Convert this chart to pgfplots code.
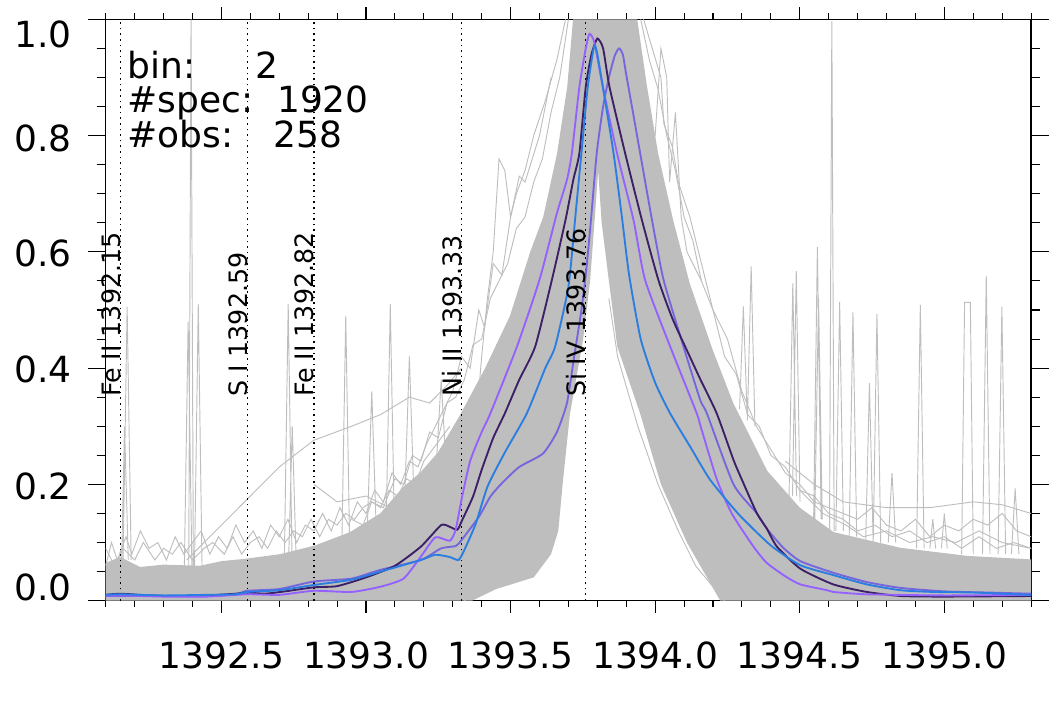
\documentclass[border=0pt]{standalone}
\usepackage{fontspec}
\setmainfont{DejaVu Sans}
\usepackage{pgfplots}
\pgfplotsset{compat=1.18}
\definecolor{gr}{HTML}{BEBEBE}
\definecolor{cdark}{HTML}{3C1F66}
\definecolor{cviol}{HTML}{9461FF}
\definecolor{cblue}{HTML}{2A7DE1}
\definecolor{cslate}{HTML}{7566DE}
\newcommand\fbig{\fontsize{27pt}{32pt}\selectfont}
\newcommand\fsm{\fontsize{19pt}{22pt}\selectfont}
\begin{document}
\begin{tikzpicture}
\path[use as bounding box] (-79.3pt,-79.7pt) rectangle (717.2pt,450.5pt);
\begin{axis}[
  at={(0,0)}, anchor=south west,
  scale only axis, width=694pt, height=436pt,
  xmin=1392.1, xmax=1395.3, ymin=0, ymax=1,
  xtick={1392.5,1393.0,1393.5,1394.0,1394.5,1395.0},
  minor xtick={1392.1,1392.2,...,1395.3},
  ytick={0,0.2,0.4,0.6,0.8,1.0},
  minor ytick={0,0.05,...,1.0},
  xticklabels={}, yticklabels={},
  tick align=outside,
  xtick style={black, line width=0.8pt, /pgfplots/major tick length=9pt, /pgfplots/minor tick length=4.5pt},
  ytick style={black, line width=0.8pt, /pgfplots/major tick length=13.5pt, /pgfplots/minor tick length=6.75pt},
  axis line style={line width=1pt},
  clip mode=individual,
  unbounded coords=jump,
]
% dense envelope of the 1920 spectra
\addplot[fill=gr, draw=none] coordinates {
(1392.100,0.065) (1392.150,0.075) (1392.219,0.058) (1392.300,0.062) (1392.426,0.060)
(1392.500,0.068) (1392.582,0.072) (1392.703,0.080) (1392.824,0.095) (1392.945,0.118)
(1393.049,0.150) (1393.128,0.195) (1393.187,0.220) (1393.249,0.255) (1393.326,0.320)
(1393.412,0.400) (1393.498,0.490) (1393.568,0.600) (1393.613,0.660) (1393.661,0.770)
(1393.696,0.884) (1393.716,1.000) (1393.938,1.000) (1393.972,0.884) (1394.010,0.770)
(1394.062,0.655) (1394.120,0.545) (1394.200,0.430) (1394.270,0.340) (1394.388,0.223)
(1394.500,0.160) (1394.617,0.118) (1394.848,0.091) (1395.080,0.077) (1395.300,0.071)
(1395.300,0.000) (1394.225,0.000) (1394.110,0.100) (1394.020,0.200) (1393.948,0.322)
(1393.869,0.437) (1393.840,0.550) (1393.815,0.650) (1393.803,0.740) (1393.790,0.650)
(1393.775,0.550) (1393.751,0.450) (1393.705,0.320) (1393.680,0.200) (1393.665,0.120)
(1393.640,0.080) (1393.580,0.040) (1393.450,0.020) (1393.367,0.000) (1392.100,0.000)
} -- cycle;
% individual noisy spectra
\addplot[gr, line width=0.7pt] coordinates {
(1392.10,0.06) (1392.12,0.10) (1392.14,0.07) (1392.17,0.11) (1392.19,0.08) (1392.22,0.12)
(1392.25,0.09) (1392.28,0.10) (1392.31,0.07) (1392.34,0.11) (1392.37,0.08) (1392.40,0.10)
(1392.43,0.12) (1392.46,0.08) (1392.49,0.11) (1392.52,0.09) (1392.55,0.13) (1392.58,0.10)
(1392.61,0.12) (1392.64,0.09) (1392.67,0.13) (1392.70,0.11) (1392.73,0.14) (1392.76,0.10)
(1392.79,0.13) (1392.82,0.12) (1392.85,0.15) (1392.88,0.12) (1392.91,0.16) (1392.94,0.13)
(1392.97,0.17) (1393.00,0.15) (1393.03,0.19) (1393.06,0.17) (1393.09,0.22) (1393.12,0.20)
(1393.15,0.24) (1393.18,0.23) (1393.21,0.27) (1393.24,0.30) (1393.27,0.33) (1393.30,0.36)
(1393.33,0.42) (1393.36,0.40) (1393.39,0.50) (1393.41,0.47) (1393.44,0.58) (1393.47,0.56)
(1393.50,0.66) (1393.52,0.70) (1393.55,0.74) (1393.58,0.80) (1393.62,0.86) (1393.66,0.93)
(1393.69,1.00)
};
\addplot[gr, line width=0.7pt] coordinates {
(1392.10,0.09) (1392.13,0.06) (1392.16,0.09) (1392.20,0.07) (1392.23,0.10) (1392.27,0.07)
(1392.30,0.09) (1392.33,0.08) (1392.36,0.10) (1392.40,0.07) (1392.44,0.09) (1392.47,0.10)
(1392.51,0.08) (1392.54,0.11) (1392.57,0.08) (1392.60,0.10) (1392.63,0.11) (1392.66,0.09)
(1392.69,0.12) (1392.72,0.10) (1392.75,0.12) (1392.78,0.11) (1392.81,0.14) (1392.84,0.11)
(1392.87,0.14) (1392.90,0.13) (1392.93,0.15) (1392.96,0.14) (1392.99,0.16) (1393.02,0.17)
(1393.05,0.16) (1393.08,0.19) (1393.11,0.18) (1393.14,0.21) (1393.17,0.20) (1393.20,0.24)
(1393.23,0.26) (1393.26,0.28) (1393.29,0.30)
};
\addplot[gr, line width=0.7pt] coordinates {
(1392.95,0.14) (1392.99,0.13) (1393.02,0.17) (1393.06,0.16) (1393.10,0.21) (1393.13,0.20)
(1393.16,0.25) (1393.19,0.24) (1393.22,0.29) (1393.25,0.28) (1393.28,0.34) (1393.31,0.35)
(1393.34,0.38) (1393.37,0.44) (1393.40,0.45) (1393.43,0.52) (1393.46,0.55) (1393.49,0.58)
(1393.52,0.64) (1393.55,0.66) (1393.58,0.72) (1393.61,0.76) (1393.64,0.84) (1393.67,0.90)
(1393.70,1.00)
};
\addplot[gr, line width=0.7pt] coordinates {
(1392.38,0.07) (1392.48,0.12) (1392.60,0.18) (1392.70,0.23) (1392.82,0.276) (1392.95,0.30)
(1393.05,0.32) (1393.15,0.35) (1393.22,0.34) (1393.28,0.37) (1393.33,0.40)
};
\addplot[gr, line width=0.7pt] coordinates {
(1392.82,0.20) (1392.90,0.17) (1393.00,0.18) (1393.08,0.16) (1393.15,0.17) (1393.22,0.15)
};
\addplot[gr, line width=0.7pt] coordinates {
(1393.38,0.30) (1393.40,0.42) (1393.42,0.52) (1393.44,0.60) (1393.46,0.76) (1393.48,0.74)
(1393.50,0.66) (1393.53,0.73) (1393.55,0.72) (1393.60,0.80) (1393.64,0.90)
};
\addplot[gr, line width=0.7pt] coordinates {
(1393.34,0.00) (1393.45,0.04) (1393.55,0.06) (1393.62,0.10) (1393.66,0.20) (1393.69,0.30)
(1393.73,0.42) (1393.77,0.55)
};
\addplot[gr, line width=0.7pt] coordinates {
(1394.24,0.00) (1394.14,0.06) (1394.08,0.12) (1394.01,0.20) (1393.94,0.30) (1393.87,0.42)
(1393.84,0.52)
};
\addplot[gr, line width=0.7pt] coordinates {
(1393.96,1.00) (1393.99,0.95) (1394.02,0.90) (1394.03,0.82) (1394.06,0.78) (1394.08,0.72)
(1394.12,0.66) (1394.15,0.60) (1394.20,0.50) (1394.25,0.45) (1394.30,0.36) (1394.35,0.30)
(1394.40,0.26) (1394.45,0.22) (1394.50,0.20) (1394.55,0.17) (1394.60,0.16) (1394.65,0.15)
(1394.70,0.14) (1394.75,0.16) (1394.80,0.13) (1394.85,0.12) (1394.90,0.14) (1394.95,0.11)
(1395.00,0.13) (1395.05,0.12) (1395.10,0.14) (1395.15,0.13) (1395.20,0.15) (1395.25,0.12)
(1395.30,0.11)
};
\addplot[gr, line width=0.7pt] coordinates {
(1393.95,1.00) (1393.98,0.93) (1394.01,0.88) (1394.04,0.80) (1394.07,0.74) (1394.10,0.66)
(1394.13,0.62) (1394.16,0.55) (1394.20,0.50) (1394.24,0.42) (1394.28,0.39) (1394.32,0.32)
(1394.36,0.30) (1394.40,0.25) (1394.45,0.23) (1394.50,0.19) (1394.55,0.18) (1394.60,0.15)
(1394.65,0.14) (1394.70,0.12) (1394.76,0.13) (1394.82,0.11) (1394.88,0.12) (1394.94,0.10)
(1395.00,0.11) (1395.06,0.09) (1395.12,0.11) (1395.18,0.09) (1395.24,0.10) (1395.30,0.09)
};
\addplot[gr, line width=0.7pt] coordinates {
(1393.98,0.78) (1394.00,0.80) (1394.02,0.95) (1394.04,0.90) (1394.05,0.72) (1394.07,0.84)
(1394.09,0.66) (1394.11,0.60) (1394.16,0.55)
};
\addplot[gr, line width=0.7pt] coordinates {
(1394.45,0.24) (1394.55,0.20) (1394.65,0.17) (1394.80,0.16) (1394.95,0.16) (1395.10,0.17)
(1395.20,0.165) (1395.30,0.15)
};
\addplot[gr, line width=0.7pt] coordinates {
(1394.50,0.19) (1394.58,0.15) (1394.66,0.13) (1394.72,0.11) (1394.80,0.12) (1394.88,0.10)
(1394.96,0.11) (1395.04,0.10) (1395.12,0.12) (1395.20,0.10) (1395.30,0.09)
};
% spikes
\addplot[gr, line width=0.7pt] coordinates {
(1392.160,0.07) (1392.174,0.506) (1392.188,0.07) (1392.19,nan)
(1392.155,0.07) (1392.165,0.30) (1392.178,0.07) (1392.18,nan)
(1392.387,0.06) (1392.395,1.00) (1392.403,0.06) (1392.41,nan)
(1392.372,0.06) (1392.385,0.48) (1392.398,0.06) (1392.40,nan)
(1392.407,0.06) (1392.420,0.51) (1392.433,0.06) (1392.44,nan)
(1392.718,0.08) (1392.731,0.51) (1392.744,0.08) (1392.75,nan)
(1392.733,0.08) (1392.745,0.30) (1392.758,0.08) (1392.76,nan)
(1392.917,0.11) (1392.930,0.49) (1392.943,0.11) (1392.95,nan)
(1393.005,0.13) (1393.020,0.36) (1393.035,0.13) (1393.04,nan)
(1393.071,0.16) (1393.084,0.51) (1393.097,0.16) (1393.10,nan)
(1393.135,0.19) (1393.150,0.42) (1393.165,0.19) (1393.17,nan)
(1393.245,0.25) (1393.260,0.38) (1393.275,0.25) (1393.28,nan)
(1394.292,0.33) (1394.305,0.506) (1394.318,0.32) (1394.32,nan)
(1394.319,0.31) (1394.332,0.575) (1394.345,0.30) (1394.35,nan)
(1394.463,0.18) (1394.476,0.546) (1394.489,0.18) (1394.49,nan)
(1394.475,0.18) (1394.488,0.567) (1394.501,0.17) (1394.51,nan)
(1394.548,0.14) (1394.561,0.608) (1394.574,0.14) (1394.58,nan)
(1394.552,0.14) (1394.565,0.52) (1394.578,0.14) (1394.58,nan)
(1394.603,0.12) (1394.611,0.997) (1394.619,0.12) (1394.62,nan)
(1394.625,0.12) (1394.638,0.514) (1394.651,0.12) (1394.66,nan)
(1394.671,0.11) (1394.684,0.496) (1394.697,0.11) (1394.70,nan)
(1394.728,0.10) (1394.741,0.374) (1394.754,0.10) (1394.76,nan)
(1394.754,0.10) (1394.767,0.493) (1394.780,0.10) (1394.79,nan)
(1394.806,0.10) (1394.819,0.22) (1394.832,0.10) (1394.84,nan)
(1394.904,0.09) (1394.917,0.509) (1394.930,0.09) (1394.94,nan)
(1394.950,0.09) (1394.960,0.14) (1394.970,0.09) (1394.98,nan)
(1394.990,0.09) (1395.000,0.15) (1395.010,0.09) (1395.02,nan)
(1395.060,0.08) (1395.070,0.513) (1395.090,0.513) (1395.100,0.08) (1395.11,nan)
(1395.132,0.08) (1395.145,0.559) (1395.158,0.08) (1395.16,nan)
(1395.186,0.08) (1395.199,0.506) (1395.212,0.08) (1395.22,nan)
(1395.232,0.08) (1395.245,0.193) (1395.258,0.08) (1395.26,nan)
};
% line positions
\addplot[black, line width=0.9pt, dash pattern=on 1.2pt off 3pt] coordinates {(1392.15,0) (1392.15,1)};
\addplot[black, line width=0.9pt, dash pattern=on 1.2pt off 3pt] coordinates {(1392.59,0) (1392.59,1)};
\addplot[black, line width=0.9pt, dash pattern=on 1.2pt off 3pt] coordinates {(1392.82,0) (1392.82,1)};
\addplot[black, line width=0.9pt, dash pattern=on 1.2pt off 3pt] coordinates {(1393.33,0) (1393.33,1)};
\addplot[black, line width=0.9pt, dash pattern=on 1.2pt off 3pt] coordinates {(1393.76,0) (1393.76,1)};
% mean profiles
\pgfplotsset{prof/.style={line width=1.4pt, smooth, tension=0.35}}
\addplot[cslate, prof] coordinates {
(1392.10,0.008) (1392.30,0.008) (1392.45,0.008) (1392.55,0.011) (1392.59,0.017) (1392.70,0.020)
(1392.82,0.033) (1392.95,0.038) (1393.05,0.053) (1393.19,0.070) (1393.26,0.090) (1393.31,0.094)
(1393.33,0.104) (1393.39,0.144) (1393.43,0.179) (1393.47,0.202) (1393.53,0.230) (1393.612,0.253)
(1393.66,0.290) (1393.695,0.340) (1393.72,0.420) (1393.745,0.500) (1393.762,0.570) (1393.778,0.655)
(1393.798,0.770) (1393.820,0.850) (1393.840,0.900) (1393.860,0.937) (1393.875,0.950) (1393.888,0.940)
(1393.900,0.905) (1393.925,0.835) (1393.948,0.770) (1393.989,0.655) (1394.029,0.552) (1394.098,0.437)
(1394.156,0.345) (1394.179,0.322)
(1394.271,0.200) (1394.352,0.150) (1394.386,0.124) (1394.443,0.091) (1394.502,0.068) (1394.616,0.048)
(1394.732,0.032) (1394.848,0.022) (1395.00,0.016) (1395.15,0.014) (1395.30,0.012)
};
\addplot[cdark, prof] coordinates {
(1392.10,0.010) (1392.15,0.012) (1392.25,0.009) (1392.35,0.008) (1392.45,0.009) (1392.55,0.012)
(1392.59,0.014) (1392.65,0.012) (1392.72,0.016) (1392.82,0.023) (1392.90,0.025) (1393.00,0.040)
(1393.10,0.060) (1393.19,0.093) (1393.26,0.130) (1393.29,0.127) (1393.316,0.122) (1393.333,0.139)
(1393.37,0.179) (1393.40,0.225) (1393.44,0.280) (1393.48,0.322) (1393.53,0.380) (1393.585,0.437)
(1393.643,0.552) (1393.69,0.655) (1393.717,0.724) (1393.738,0.770) (1393.76,0.884) (1393.78,0.940)
(1393.80,0.967) (1393.82,0.950) (1393.842,0.884) (1393.896,0.770) (1393.954,0.655) (1394.011,0.552)
(1394.06,0.485) (1394.115,0.425) (1394.156,0.381) (1394.213,0.322) (1394.271,0.242) (1394.30,0.208)
(1394.352,0.150) (1394.386,0.124) (1394.421,0.093) (1394.502,0.055) (1394.616,0.028) (1394.732,0.015)
(1394.85,0.008) (1395.00,0.007) (1395.30,0.008)
};
\addplot[cviol, prof] coordinates {
(1392.10,0.008) (1392.15,0.009) (1392.30,0.007) (1392.45,0.007) (1392.59,0.011) (1392.70,0.010)
(1392.82,0.017) (1392.95,0.015) (1393.05,0.024) (1393.13,0.038) (1393.19,0.076) (1393.24,0.109)
(1393.29,0.103) (1393.31,0.122) (1393.33,0.173) (1393.36,0.240) (1393.40,0.290) (1393.43,0.322)
(1393.522,0.437) (1393.60,0.552) (1393.66,0.666) (1393.695,0.724) (1393.712,0.770) (1393.738,0.884)
(1393.76,0.950) (1393.773,0.975) (1393.79,0.960) (1393.819,0.884) (1393.868,0.770) (1393.925,0.655)
(1393.965,0.552) (1394.052,0.437) (1394.144,0.322) (1394.156,0.302) (1394.213,0.209) (1394.265,0.150)
(1394.34,0.093) (1394.386,0.065) (1394.45,0.042) (1394.502,0.028) (1394.594,0.018) (1394.616,0.015)
(1394.73,0.011) (1395.00,0.009) (1395.30,0.010)
};
\addplot[cblue, prof] coordinates {
(1392.10,0.010) (1392.15,0.011) (1392.30,0.009) (1392.45,0.010) (1392.55,0.011) (1392.59,0.015)
(1392.70,0.018) (1392.82,0.027) (1392.95,0.036) (1393.05,0.050) (1393.19,0.070) (1393.24,0.079)
(1393.29,0.075) (1393.32,0.070) (1393.34,0.087) (1393.38,0.133) (1393.42,0.196) (1393.478,0.253)
(1393.556,0.322) (1393.62,0.400) (1393.654,0.437) (1393.70,0.540) (1393.725,0.666) (1393.745,0.770)
(1393.767,0.884) (1393.789,0.954) (1393.80,0.940) (1393.819,0.884) (1393.856,0.770) (1393.885,0.660)
(1393.910,0.560) (1393.950,0.450) (1394.00,0.375) (1394.052,0.322) (1394.121,0.265) (1394.19,0.208)
(1394.29,0.148) (1394.40,0.095) (1394.502,0.061) (1394.616,0.044) (1394.732,0.028) (1394.848,0.018)
(1394.963,0.015) (1395.10,0.014) (1395.30,0.010)
};
% line labels
\node[rotate=90, anchor=base west, inner sep=0, font=\fsm] at (axis cs:1392.15,0.35) {Fe II 1392.15};
\node[rotate=90, anchor=base west, inner sep=0, font=\fsm] at (axis cs:1392.59,0.35) {S I 1392.59};
\node[rotate=90, anchor=base west, inner sep=0, font=\fsm] at (axis cs:1392.82,0.35) {Fe II 1392.82};
\node[rotate=90, anchor=base west, inner sep=0, font=\fsm] at (axis cs:1393.33,0.35) {Ni II 1393.33};
\node[rotate=90, anchor=base west, inner sep=0, font=\fsm] at (axis cs:1393.76,0.35) {Si IV 1393.76};
% info text
\node[anchor=base west, inner sep=0, font=\fbig] at (axis cs:1392.174,0.899) {bin:};
\node[anchor=base west, inner sep=0, font=\fbig] at (axis cs:1392.174,0.839) {\#spec:};
\node[anchor=base west, inner sep=0, font=\fbig] at (axis cs:1392.174,0.780) {\#obs:};
\node[anchor=base west, inner sep=0, font=\fbig] at (axis cs:1392.616,0.899) {2};
\node[anchor=base west, inner sep=0, font=\fbig] at (axis cs:1392.692,0.839) {1920};
\node[anchor=base west, inner sep=0, font=\fbig] at (axis cs:1392.679,0.780) {258};
% tick labels
\node[anchor=base, inner sep=0, font=\fbig, yshift=-50.5pt] at (axis cs:1392.5,0) {1392.5};
\node[anchor=base, inner sep=0, font=\fbig, yshift=-50.5pt] at (axis cs:1393.0,0) {1393.0};
\node[anchor=base, inner sep=0, font=\fbig, yshift=-50.5pt] at (axis cs:1393.5,0) {1393.5};
\node[anchor=base, inner sep=0, font=\fbig, yshift=-50.5pt] at (axis cs:1394.0,0) {1394.0};
\node[anchor=base, inner sep=0, font=\fbig, yshift=-50.5pt] at (axis cs:1394.5,0) {1394.5};
\node[anchor=base, inner sep=0, font=\fbig, yshift=-50.5pt] at (axis cs:1395.0,0) {1395.0};
\node[anchor=east, inner sep=0, font=\fbig, xshift=-25.5pt] at (axis cs:1392.1,0.974) {1.0};
\node[anchor=east, inner sep=0, font=\fbig, xshift=-25.5pt] at (axis cs:1392.1,0.795) {0.8};
\node[anchor=east, inner sep=0, font=\fbig, xshift=-25.5pt] at (axis cs:1392.1,0.598) {0.6};
\node[anchor=east, inner sep=0, font=\fbig, xshift=-25.5pt] at (axis cs:1392.1,0.397) {0.4};
\node[anchor=east, inner sep=0, font=\fbig, xshift=-25.5pt] at (axis cs:1392.1,0.197) {0.2};
\node[anchor=east, inner sep=0, font=\fbig, xshift=-25.5pt] at (axis cs:1392.1,0.022) {0.0};
\end{axis}
\end{tikzpicture}
\end{document}
